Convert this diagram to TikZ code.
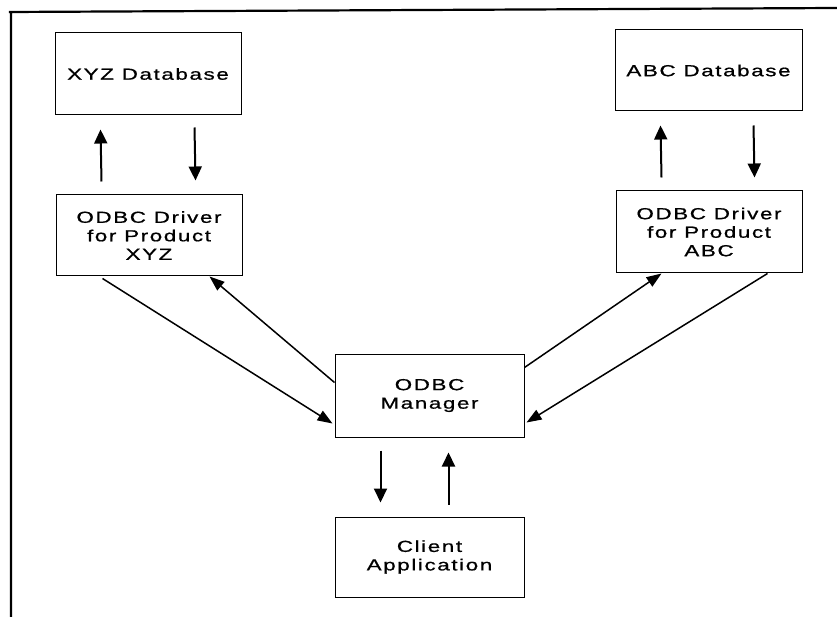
\documentclass[tikz,border=0pt]{standalone}
\usepackage{fontspec}
\setmainfont{Liberation Sans}
\newfontfamily\boxfont[FakeStretch=1.4,LetterSpace=10,FakeBold=0.8]{Liberation Sans}
\usetikzlibrary{arrows.meta,calc}
\begin{document}
\begin{tikzpicture}[x=1pt,y=-1pt,
  box/.style={draw=black,line width=1pt,align=center,inner sep=0pt,
    font=\boxfont\fontsize{16}{18.5}\selectfont},
  arr/.style={line width=2pt,-{Triangle[length=14pt,width=13pt]}},
  diag/.style={line width=1.5pt,-{Triangle[length=15pt,width=11pt]}},
  frame/.style={line width=2.2pt}]
\useasboundingbox (0,0) rectangle (837,617);
\fill[white] (0,0) rectangle (837,617);
% frame
\coordinate (f1) at (9,12);
\coordinate (f2) at (837,8);
\coordinate (f3) at (11,617);
\draw[frame] (f3) -- (11,12) -- (f1) -- (f2);
% boxes
\node[box,minimum width=186pt,minimum height=82pt] (xyzdb) at (148,74) {XYZ Database};
\node[box,minimum width=186pt,minimum height=81pt] (xyzdrv) at (149,235.5) {ODBC Driver\\for Product\\XYZ};
\node[box,minimum width=187pt,minimum height=81pt] (abcdb) at (708.5,70.5) {ABC Database};
\node[box,minimum width=186pt,minimum height=82pt] (abcdrv) at (709,232) {ODBC Driver\\for Product\\ABC};
\node[box,minimum width=189pt,minimum height=83pt] (mgr) at (429.5,395.5) {ODBC\\Manager};
\node[box,minimum width=189pt,minimum height=80pt] (client) at (429.5,557) {Client\\Application};
% vertical arrows
\draw[arr] ([xshift=46pt,yshift=13pt]xyzdrv.north west) -- ([xshift=46pt,yshift=-14pt]xyzdb.south west);
\draw[arr] ([xshift=140pt,yshift=-12pt]xyzdb.south west) -- ([xshift=140pt,yshift=14pt]xyzdrv.north west);
\draw[arr] ([xshift=46pt,yshift=13pt]abcdrv.north west) -- ([xshift=46pt,yshift=-14pt]abcdb.south west);
\draw[arr] ([xshift=139pt,yshift=-14pt]abcdb.south west) -- ([xshift=139pt,yshift=13pt]abcdrv.north west);
\draw[arr] ([xshift=46pt,yshift=-13pt]mgr.south west) -- ([xshift=46pt,yshift=14pt]client.north west);
\draw[arr] ([xshift=114pt,yshift=12pt]client.north west) -- ([xshift=114pt,yshift=-15pt]mgr.south west);
% diagonal arrows
\draw[diag] ([xshift=47pt,yshift=-2pt]xyzdrv.south west) -- ([xshift=-2pt,yshift=14pt]mgr.south west);
\draw[diag] ([yshift=-29pt]mgr.north west) -- ([xshift=154pt]xyzdrv.south west);
\draw[diag] ([yshift=-14pt]mgr.north east) -- ([xshift=46pt]abcdrv.south west);
\draw[diag] ([xshift=152pt]abcdrv.south west) -- ([xshift=2pt,yshift=15pt]mgr.south east);
\end{tikzpicture}
\end{document}
